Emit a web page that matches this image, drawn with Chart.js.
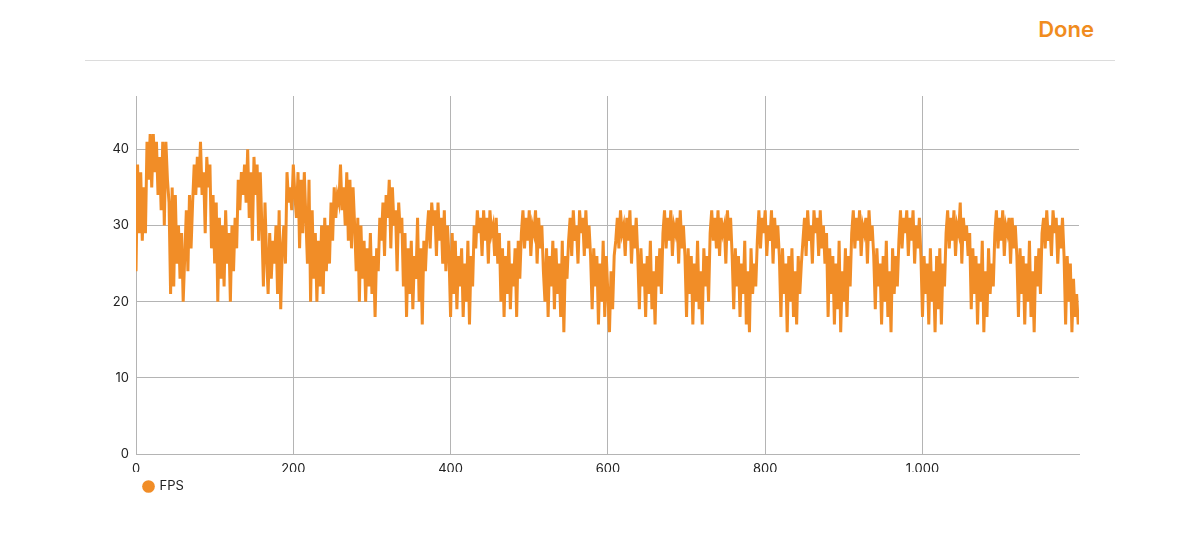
<!DOCTYPE html>
<html>
<head>
<meta charset="utf-8">
<script src="https://cdn.jsdelivr.net/npm/chart.js@4"></script>
<style>
  html, body { margin: 0; padding: 0; background: #fff; }
  body { width: 1200px; height: 552px; position: relative; overflow: hidden; font-family: Inter, "Noto Sans", sans-serif; }
  .done { position: absolute; right: 106px; top: 16px; color: #F08C1E; font-size: 22px; font-weight: 600; }
  .rule { position: absolute; left: 85px; width: 1030px; top: 60px; height: 1px; background: #dcdcdc; }
  .chart-box { position: absolute; left: 0; top: 0; width: 1200px; height: 552px; }
</style>
</head>
<body>
<div class="done">Done</div>
<div class="rule"></div>
<div class="chart-box"><canvas id="fpsChart"></canvas></div>
<script>
// one sample every 2 frames
const STEP = 2;
const seriesName = 'FPS';
const xTicks = [0, 200, 400, 600, 800, 1000];
const yTicks = [0, 10, 20, 30, 40];
const fps = [
  24, 38, 29, 37, 28, 35,
  29, 41, 36, 42,
  35, 42, 37, 41, 34, 39, 32, 41, 30, 41,
  36, 33, 21, 35,
  22, 34, 25, 30, 23, 29, 20, 26, 32, 24, 34, 27,
  33, 38, 34, 39, 35, 41, 34, 37, 29, 39, 35, 38, 27, 34,
  25, 33, 20, 31, 23, 30, 22, 32, 25, 29, 20, 30, 24, 31, 27,
  36, 32, 37, 34, 38, 33, 40, 31, 37, 28, 39, 34, 38, 28, 37,
  30, 22, 33, 26, 21, 29, 23, 28, 25, 30, 21, 32, 19, 27,
  30, 25, 37, 33, 35, 32, 38, 34, 31, 37, 27, 36, 29, 37,
  31, 25, 36, 20, 32, 23, 29, 20, 28, 22, 30, 21, 31, 24, 30, 25, 33,
  28, 35, 31, 34, 33, 38, 32, 35, 30, 37, 28, 36, 27, 35, 30,
  24, 31, 20, 30, 23, 28, 20, 27, 22, 29, 21, 26, 18, 27, 24, 31,
  28, 33, 26, 34, 31, 36, 27, 35, 30, 32, 24, 33, 29, 31,
  22, 29, 18, 27, 21, 28, 19, 26, 23, 31, 20, 27, 17, 28, 24,
  29, 32, 27, 33, 30, 32, 26, 33, 28, 31, 25, 32, 24, 30, 26,
  18, 29, 21, 28, 19, 26, 22, 27, 18, 25, 20, 28, 17, 26, 22,
  30, 27, 32, 29, 31, 26, 32, 28, 31, 25, 32, 29, 30, 26, 31, 25, 29,
  20, 27, 18, 26, 21, 28, 19, 25, 22, 27, 18, 28, 23,
  29, 32, 27, 31, 28, 32, 26, 30, 29, 32, 25, 31, 27, 30, 24,
  20, 27, 18, 26, 22, 28, 19, 27, 21, 25, 18, 28, 16, 26, 23,
  28, 31, 26, 32, 28, 30, 25, 32, 29, 31, 26, 32, 27, 30, 26,
  19, 27, 22, 26, 17, 25, 20, 28, 18, 26, 21, 16, 24, 19, 26,
  28, 31, 27, 32, 29, 30, 26, 31, 28, 32, 25, 30, 27, 31, 26,
  19, 27, 22, 25, 18, 26, 21, 28, 19, 24, 17, 26, 22, 27, 21,
  29, 32, 27, 31, 28, 32, 26, 30, 29, 31, 25, 32, 27, 30, 26,
  18, 27, 21, 26, 17, 25, 20, 28, 19, 24, 17, 27, 22, 26, 20,
  29, 32, 28, 31, 27, 32, 26, 31, 29, 30, 25, 32, 28, 31, 26,
  19, 27, 22, 26, 18, 25, 21, 28, 17, 24, 16, 27, 21, 25, 22,
  28, 32, 27, 31, 29, 32, 26, 30, 28, 32, 25, 31, 27, 30, 26,
  18, 27, 21, 25, 16, 26, 20, 27, 18, 24, 17, 26, 21, 25,
  28, 31, 26, 32, 28, 30, 25, 32, 29, 31, 26, 32, 27, 30, 25, 29,
  18, 27, 21, 26, 17, 25, 19, 28, 16, 24, 20, 27, 18, 26, 22,
  29, 32, 27, 31, 28, 32, 26, 30, 29, 31, 25, 32, 28, 30, 26,
  19, 27, 22, 25, 17, 26, 20, 28, 18, 24, 16, 27, 21, 26, 22,
  28, 32, 27, 31, 29, 32, 26, 31, 28, 32, 25, 30, 27, 31, 26,
  18, 26, 21, 25, 17, 27, 20, 24, 16, 26, 19, 27, 17, 25, 22,
  29, 32, 27, 31, 28, 32, 26, 30, 29, 33, 25, 31, 28, 30, 26, 29,
  19, 27, 21, 26, 17, 25, 20, 28, 16, 24, 18, 27, 21, 25, 22,
  29, 32, 27, 31, 28, 32, 26, 30, 29, 31, 25, 31, 27, 30, 26,
  18, 27, 21, 26, 17, 25, 20, 28, 18, 24, 16, 26, 22, 27, 21,
  29, 31, 27, 32, 28, 30, 26, 32, 29, 31, 25, 30, 27, 31, 26,
  17, 26, 20, 25, 16, 23, 18, 21, 17
];

const orange = '#F18D27';
const gridColor = '#b4b4b4';
const tickFont = { family: 'Inter, "Noto Sans", sans-serif', size: 13 };

// put the ticks exactly on the listed values
function setTicks(list) {
  return function (axis) {
    axis.ticks = list.map(v => ({ value: v }));
  };
}

const ctx = document.getElementById('fpsChart').getContext('2d');
new Chart(ctx, {
  type: 'line',
  data: {
    datasets: [{
      label: seriesName,
      data: fps.map((v, i) => ({ x: i * STEP, y: v })),
      borderColor: orange,
      backgroundColor: orange,
      borderWidth: 3,
      pointRadius: 0,
      tension: 0
    }]
  },
  options: {
    responsive: true,
    maintainAspectRatio: false,
    animation: false,
    layout: { padding: { left: 0, top: 96, right: 121, bottom: 49 } },
    plugins: {
      tooltip: { enabled: false },
      legend: {
        position: 'bottom',
        align: 'start',
        fullSize: false,
        labels: {
          usePointStyle: true,
          pointStyle: 'circle',
          boxWidth: 9,
          boxHeight: 9,
          padding: 8,
          color: '#222',
          font: tickFont,
          // plain filled dot, no outline
          generateLabels: chart => {
            const items = Chart.defaults.plugins.legend.labels.generateLabels(chart);
            items.forEach(it => { it.lineWidth = 0; });
            return items;
          }
        }
      }
    },
    scales: {
      x: {
        type: 'linear',
        min: 0,
        max: 1199,
        afterBuildTicks: setTicks(xTicks),
        afterFit: s => { s.height = 18; },
        grid: { color: gridColor, drawTicks: false },
        border: { color: gridColor },
        ticks: { maxRotation: 0, autoSkip: false, padding: 7, color: '#222', font: tickFont }
      },
      y: {
        min: 0,
        max: 47,
        afterBuildTicks: setTicks(yTicks),
        afterFit: s => { s.width = 136; },
        grid: { color: gridColor, drawTicks: false },
        border: { color: gridColor },
        ticks: { padding: 7, color: '#222', font: tickFont }
      }
    }
  }
});
</script>
</body>
</html>
